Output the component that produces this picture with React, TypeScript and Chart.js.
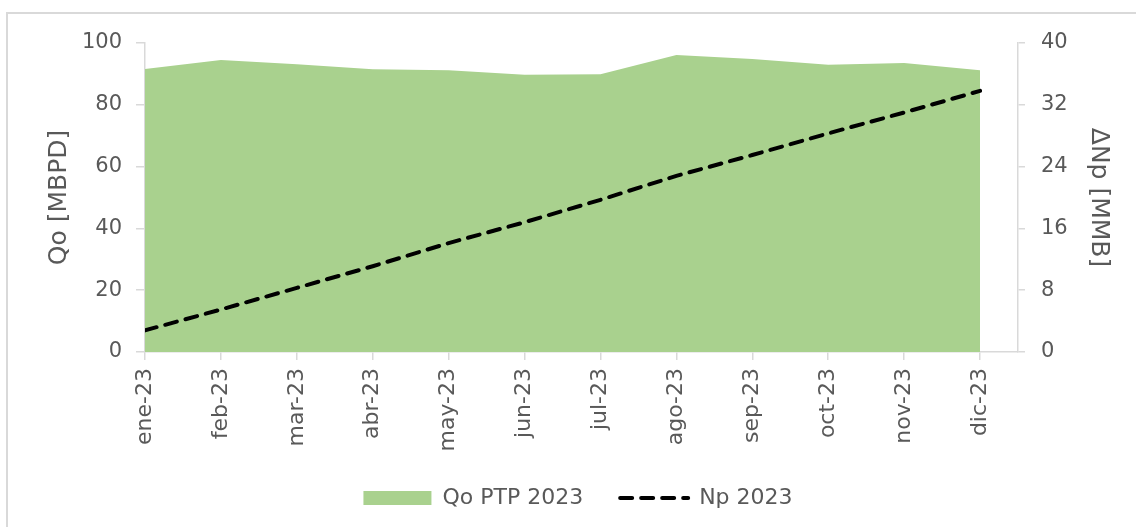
import React, { useEffect, useRef } from 'react';
import { Chart, registerables } from 'chart.js';

Chart.register(...registerables);

const months = ['ene-23', 'feb-23', 'mar-23', 'abr-23', 'may-23', 'jun-23', 'jul-23', 'ago-23', 'sep-23', 'oct-23', 'nov-23', 'dic-23'];
const qoPtp2023 = [91.6, 94.5, 93.1, 91.5, 91.2, 89.7, 89.9, 96.1, 94.8, 93.0, 93.5, 91.2];
const np2023 = [2.8, 5.5, 8.3, 11.1, 14.1, 16.8, 19.7, 22.8, 25.5, 28.3, 31.0, 33.8];
const qoAxisTicks = [0, 20, 40, 60, 80, 100];
const npAxisTicks = [0, 8, 16, 24, 32, 40];

const GREEN = '#a9d18e';
const TEXT = '#595959';
const AXIS = '#d9d9d9';
const FONT = 'DejaVu Sans';

export default function App() {
  const ref = useRef<HTMLCanvasElement | null>(null);

  useEffect(() => {
    if (!ref.current) return;
    Chart.defaults.font.family = FONT;
    const chart = new Chart(ref.current, {
      type: 'line',
      data: {
        datasets: [
          {
            label: 'Qo PTP 2023',
            data: qoPtp2023.map((v, i) => ({ x: i, y: v })),
            yAxisID: 'y',
            backgroundColor: GREEN,
            borderColor: GREEN,
            borderWidth: 0,
            fill: 'origin',
            pointRadius: 0,
            tension: 0,
            order: 2,
          },
          {
            label: 'Np 2023',
            data: np2023.map((v, i) => ({ x: i, y: v })),
            yAxisID: 'y1',
            borderColor: '#000000',
            borderWidth: 4,
            borderDash: [12, 9],
            borderCapStyle: 'round',
            fill: false,
            pointRadius: 0,
            tension: 0,
            order: 1,
          },
        ],
      },
      options: {
        responsive: false,
        animation: false,
        layout: { padding: { left: 39, right: 19, top: 43, bottom: 8 } },
        plugins: {
          tooltip: { enabled: false },
          legend: {
            position: 'bottom',
            labels: {
              color: TEXT,
              font: { size: 22, family: FONT },
              usePointStyle: true,
              pointStyleWidth: 68,
              boxHeight: 14,
              padding: 37,
              generateLabels: () => [
                {
                  text: 'Qo PTP 2023',
                  fillStyle: GREEN,
                  strokeStyle: GREEN,
                  lineWidth: 0,
                  pointStyle: 'rect',
                  datasetIndex: 0,
                  hidden: false,
                  fontColor: TEXT,
                },
                {
                  text: 'Np 2023',
                  fillStyle: 'rgba(0,0,0,0)',
                  strokeStyle: '#000000',
                  lineWidth: 4,
                  lineDash: [12, 9],
                  lineCap: 'round',
                  pointStyle: 'line',
                  datasetIndex: 1,
                  hidden: false,
                  fontColor: TEXT,
                },
              ],
            },
          },
        },
        scales: {
          x: {
            type: 'linear',
            position: 'bottom',
            min: 0,
            max: months.length - 0.5,
            afterFit: (s: any) => { s.height = 98; },
            afterBuildTicks: (s: any) => { s.ticks = months.map((_, i) => ({ value: i })); },
            ticks: {
              autoSkip: false,
              maxRotation: 90,
              minRotation: 90,
              padding: 8,
              color: TEXT,
              font: { size: 22, family: FONT },
              callback: (v: any) => months[v as number] ?? '',
            },
            grid: { drawOnChartArea: false, color: AXIS, lineWidth: 1.5, tickLength: 8 },
            border: { color: AXIS, width: 1.5 },
          },
          y: {
            position: 'left',
            min: 0,
            max: 100,
            afterFit: (s: any) => { s.width = 106; },
            afterBuildTicks: (s: any) => { s.ticks = qoAxisTicks.map((v) => ({ value: v })); },
            ticks: { padding: 14, color: TEXT, font: { size: 21, family: FONT } },
            grid: { drawOnChartArea: false, color: AXIS, lineWidth: 1.5, tickLength: 9 },
            border: { color: AXIS, width: 1.5 },
            title: { display: true, text: 'Qo [MBPD]', color: TEXT, font: { size: 25, family: FONT }, padding: { top: 5, bottom: 0 } },
          },
          y1: {
            position: 'right',
            min: 0,
            max: 40,
            afterFit: (s: any) => { s.width = 99; },
            afterBuildTicks: (s: any) => { s.ticks = npAxisTicks.map((v) => ({ value: v })); },
            ticks: { padding: 16, color: TEXT, font: { size: 21, family: FONT } },
            grid: { drawOnChartArea: false, color: AXIS, lineWidth: 1.5, tickLength: 7 },
            border: { color: AXIS, width: 1.5 },
            title: { display: true, text: 'ΔNp [MMB]', color: TEXT, font: { size: 25, family: FONT }, padding: { top: 4, bottom: 0 } },
          },
        },
      },
    } as any);
    return () => chart.destroy();
  }, []);

  return (
    <div style={{ position: 'fixed', left: 0, top: 0, width: 1136, height: 527, overflow: 'hidden', background: '#fff' }}>
      <div style={{ position: 'absolute', left: 6, top: 12, width: 1200, height: 600, border: `2px solid ${AXIS}` }} />
      <canvas ref={ref} width={1136} height={527} style={{ position: 'absolute', left: 0, top: 0, width: 1136, height: 527 }} />
    </div>
  );
}
